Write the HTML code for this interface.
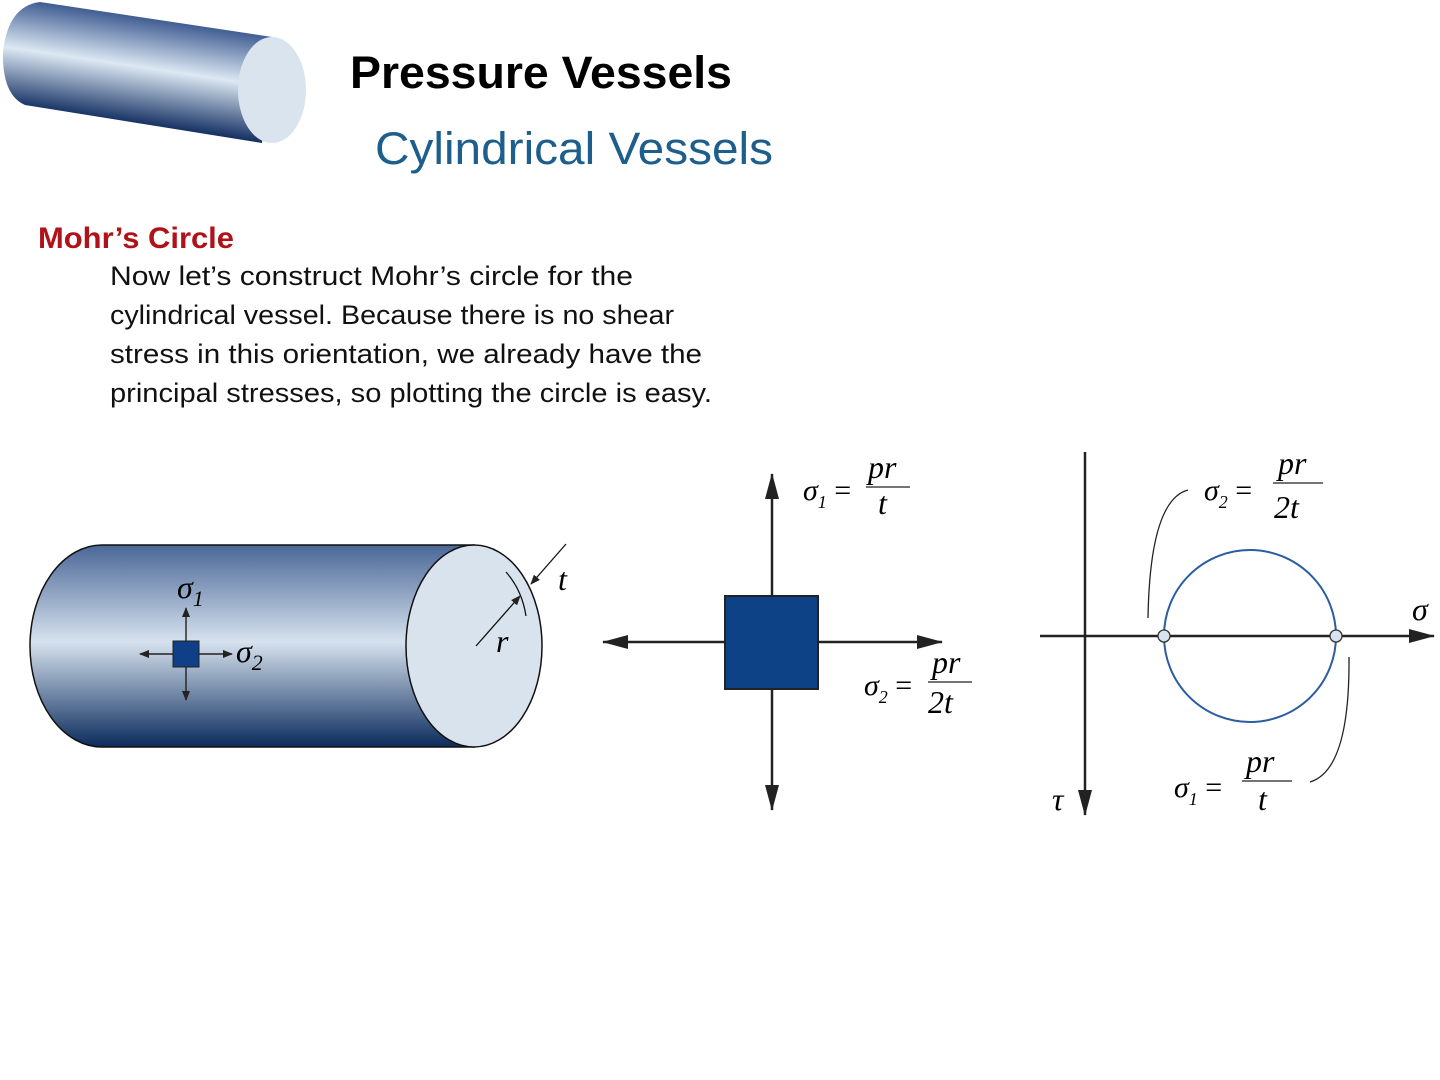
<!DOCTYPE html>
<html><head><meta charset="utf-8"><style>
html,body{margin:0;padding:0;background:#fff;}
svg{display:block;}
.m{font-family:"Liberation Serif",serif;font-style:italic;}
</style></head><body>
<svg width="1440" height="1080" viewBox="0 0 1440 1080" xmlns="http://www.w3.org/2000/svg">
<defs>
<linearGradient id="g1" gradientUnits="userSpaceOnUse" x1="142" y1="17" x2="126" y2="124">
<stop offset="0" stop-color="#3f5c92"/><stop offset="0.46" stop-color="#dce8f3"/><stop offset="1" stop-color="#0e2a5e"/>
</linearGradient>
<linearGradient id="g2" x1="0" y1="0" x2="0" y2="1">
<stop offset="0" stop-color="#4a6797"/><stop offset="0.48" stop-color="#d6e2ee"/><stop offset="1" stop-color="#0b2b5c"/>
</linearGradient>
<marker id="a" markerWidth="10" markerHeight="8" refX="9" refY="4" orient="auto" markerUnits="userSpaceOnUse"><path d="M0,0 L10,4 L0,8 Z" fill="#222"/></marker>
<marker id="A" markerWidth="26" markerHeight="14" refX="25" refY="7" orient="auto" markerUnits="userSpaceOnUse"><path d="M0,0 L26,7 L0,14 Z" fill="#222"/></marker>
</defs>

<!-- top cylinder -->
<path d="M40,2 L272,37 L262,143 L25,105 Q2,95 3,52 Q8,6 40,2 Z" fill="url(#g1)"/>
<ellipse cx="272" cy="90" rx="34" ry="53" fill="#d9e4ef"/>

<text x="350" y="88" font-family="Liberation Sans,sans-serif" font-weight="bold" font-size="45" textLength="382" lengthAdjust="spacingAndGlyphs">Pressure Vessels</text>
<text x="375" y="164" font-family="Liberation Sans,sans-serif" font-size="45" fill="#1d5e8c" textLength="398" lengthAdjust="spacingAndGlyphs">Cylindrical Vessels</text>
<text x="38" y="248" font-family="Liberation Sans,sans-serif" font-weight="bold" font-size="30" fill="#b0121a" textLength="196" lengthAdjust="spacingAndGlyphs">Mohr’s Circle</text>
<g font-family="Liberation Sans,sans-serif" font-size="27" fill="#111">
<text x="110" y="285" textLength="523" lengthAdjust="spacingAndGlyphs">Now let’s construct Mohr’s circle for the</text>
<text x="110" y="324" textLength="564" lengthAdjust="spacingAndGlyphs">cylindrical vessel. Because there is no shear</text>
<text x="110" y="363" textLength="592" lengthAdjust="spacingAndGlyphs">stress in this orientation, we already have the</text>
<text x="110" y="402" textLength="602" lengthAdjust="spacingAndGlyphs">principal stresses, so plotting the circle is easy.</text>
</g>

<!-- main cylinder -->
<path d="M102,545 L474,545 L474,747 L102,747 A72,101 0 0 1 102,545 Z" fill="url(#g2)" stroke="#111" stroke-width="1.5"/>
<ellipse cx="474" cy="646" rx="68" ry="101" fill="#d8e3ee" stroke="#111" stroke-width="1.5"/>
<path d="M506,572 Q522,590 526,616" fill="none" stroke="#111" stroke-width="1.3"/>
<line x1="566" y1="544" x2="531" y2="584" stroke="#111" stroke-width="1.3" marker-end="url(#a)"/>
<line x1="476" y1="646" x2="520" y2="596" stroke="#111" stroke-width="1.3" marker-end="url(#a)"/>
<text x="558" y="590" class="m" font-size="32">t</text>
<text x="496" y="652" class="m" font-size="32">r</text>
<rect x="173" y="641" width="26" height="26" fill="#0e3f87" stroke="#222" stroke-width="1"/>
<g stroke="#222" stroke-width="1.4">
<line x1="186" y1="641" x2="186" y2="608" marker-end="url(#a)"/>
<line x1="186" y1="667" x2="186" y2="700" marker-end="url(#a)"/>
<line x1="199" y1="654" x2="232" y2="654" marker-end="url(#a)"/>
<line x1="173" y1="654" x2="140" y2="654" marker-end="url(#a)"/>
</g>
<text x="177" y="598" class="m" font-size="32">σ<tspan font-size="22" dy="8">1</tspan></text>
<text x="236" y="662" class="m" font-size="32">σ<tspan font-size="22" dy="8">2</tspan></text>

<!-- stress element -->
<g stroke="#222" stroke-width="2.5">
<line x1="772" y1="596" x2="772" y2="474" marker-end="url(#A)"/>
<line x1="772" y1="689" x2="772" y2="810" marker-end="url(#A)"/>
<line x1="818" y1="642" x2="942" y2="642" marker-end="url(#A)"/>
<line x1="725" y1="642" x2="603" y2="642" marker-end="url(#A)"/>
</g>
<rect x="725" y="596" width="93" height="93" fill="#0e4287" stroke="#222" stroke-width="2"/>
<text x="803" y="500" class="m" font-size="30">σ<tspan font-size="18" dy="8">1</tspan><tspan dy="-8" font-style="normal"> =</tspan></text>
<text x="868" y="478" class="m" font-size="32">pr</text>
<line x1="866" y1="487" x2="910" y2="487" stroke="#222" stroke-width="1.3"/>
<text x="878" y="514" class="m" font-size="32">t</text>
<text x="864" y="695" class="m" font-size="30">σ<tspan font-size="18" dy="8">2</tspan><tspan dy="-8" font-style="normal"> =</tspan></text>
<text x="932" y="673" class="m" font-size="32">pr</text>
<line x1="928" y1="682" x2="972" y2="682" stroke="#222" stroke-width="1.3"/>
<text x="928" y="713" class="m" font-size="32">2t</text>

<!-- Mohr circle -->
<g stroke="#222" stroke-width="2.5">
<line x1="1085" y1="452" x2="1085" y2="815" marker-end="url(#A)"/>
<line x1="1040" y1="636" x2="1434" y2="636" marker-end="url(#A)"/>
</g>
<circle cx="1250" cy="636" r="86" fill="none" stroke="#2a5da0" stroke-width="2"/>
<circle cx="1164" cy="636" r="6" fill="#d8e3ee" stroke="#333" stroke-width="1.3"/>
<circle cx="1336" cy="636" r="6" fill="#d8e3ee" stroke="#333" stroke-width="1.3"/>
<path d="M1148,618 Q1150,500 1188,490" fill="none" stroke="#222" stroke-width="1.3"/>
<path d="M1349,657 Q1350,770 1310,782" fill="none" stroke="#222" stroke-width="1.3"/>
<text x="1412" y="620" class="m" font-size="32">σ</text>
<text x="1052" y="810" class="m" font-size="32">τ</text>
<text x="1204" y="500" class="m" font-size="30">σ<tspan font-size="18" dy="8">2</tspan><tspan dy="-8" font-style="normal"> =</tspan></text>
<text x="1278" y="474" class="m" font-size="32">pr</text>
<line x1="1273" y1="483" x2="1323" y2="483" stroke="#222" stroke-width="1.3"/>
<text x="1274" y="518" class="m" font-size="32">2t</text>
<text x="1174" y="797" class="m" font-size="30">σ<tspan font-size="18" dy="8">1</tspan><tspan dy="-8" font-style="normal"> =</tspan></text>
<text x="1246" y="772" class="m" font-size="32">pr</text>
<line x1="1242" y1="781" x2="1292" y2="781" stroke="#222" stroke-width="1.3"/>
<text x="1258" y="810" class="m" font-size="32">t</text>
</svg>
</body></html>
